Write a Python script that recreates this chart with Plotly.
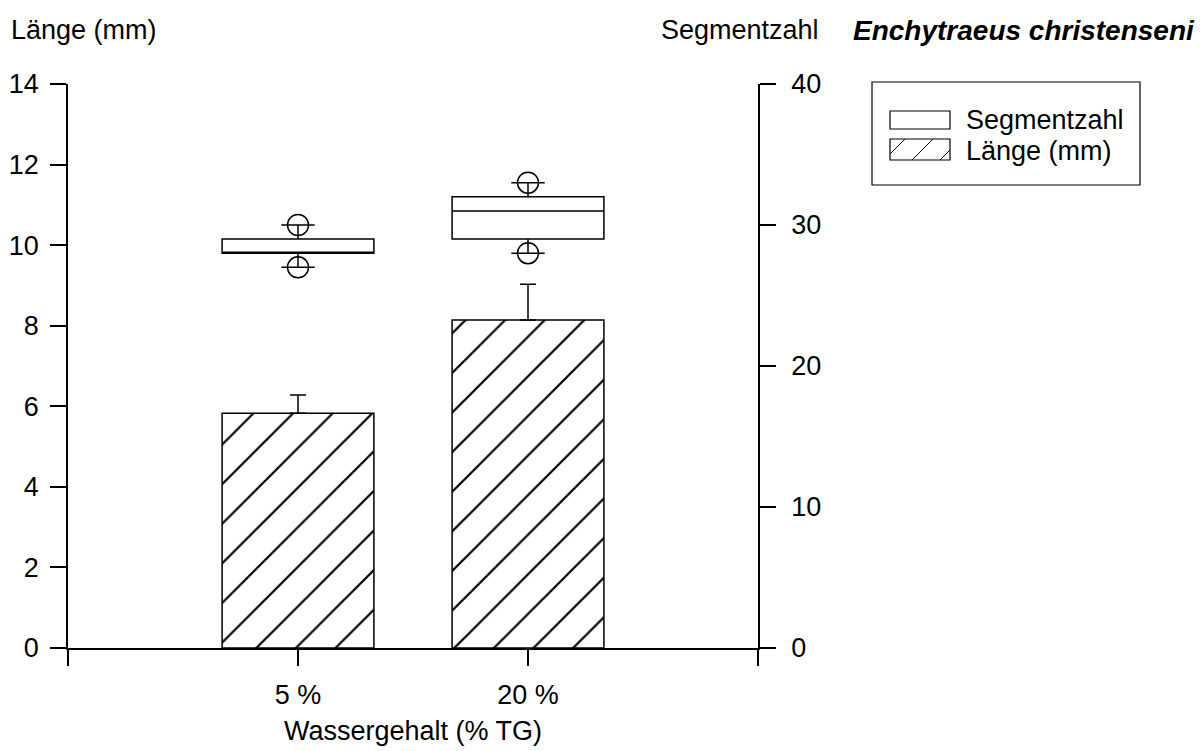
import plotly.graph_objects as go

# ---- data ----
categories = ["5 %", "20 %"]
x_pos = [0, 1]
laenge_mean = [5.83, 8.14]
laenge_err = [0.45, 0.89]

seg_q1 = [28, 29]
seg_median = [28, 31]
seg_q3 = [29, 32]
seg_lower = [27, 28]
seg_upper = [30, 33]

FONT = "Liberation Sans, Arial, sans-serif"
FS = 27

fig = go.Figure()

fig.add_trace(go.Bar(
    x=x_pos, y=laenge_mean, width=0.66,
    marker=dict(color="white",
                line=dict(color="black", width=1.5),
                pattern=dict(shape="/", fgcolor="black", bgcolor="white",
                             fgopacity=1, size=28, solidity=0.08)),
    error_y=dict(type="data", symmetric=False, array=laenge_err,
                 arrayminus=[0, 0], color="black", thickness=1.5, width=8),
    showlegend=False, yaxis="y",
))

fig.add_trace(go.Box(
    x=x_pos, q1=seg_q1, median=seg_median, q3=seg_q3,
    lowerfence=seg_lower, upperfence=seg_upper,
    width=0.66, whiskerwidth=0.22, boxpoints=False,
    fillcolor="white", line=dict(color="black", width=1.5),
    showlegend=False, yaxis="y2",
))

fig.add_trace(go.Scatter(
    x=x_pos + x_pos, y=seg_upper + seg_lower, mode="markers",
    marker=dict(symbol="circle-open", size=21, color="black",
                line=dict(width=1.5, color="black")),
    showlegend=False, yaxis="y2", hoverinfo="skip",
))

L, R, T, B = 68, 442, 84, 103
W, H = 1200, 751
pw, ph = W - L - R, H - T - B


def px(xp):
    return (xp - L) / pw


def py(yp):
    return (H - B - yp) / ph


shapes = []
# legend frame
shapes.append(dict(type="rect", xref="paper", yref="paper",
                   x0=px(872), x1=px(1140), y0=py(82), y1=py(185),
                   line=dict(color="black", width=1.2), fillcolor="white", layer="above"))
# swatch Segmentzahl
shapes.append(dict(type="rect", xref="paper", yref="paper",
                   x0=px(890), x1=px(950), y0=py(111), y1=py(129),
                   line=dict(color="black", width=1.2), fillcolor="white", layer="above"))
# swatch Länge
sx0, sx1, sy0, sy1 = 890, 950, 139, 160
shapes.append(dict(type="rect", xref="paper", yref="paper",
                   x0=px(sx0), x1=px(sx1), y0=py(sy0), y1=py(sy1),
                   line=dict(color="black", width=1.2), fillcolor="white", layer="above"))
hh = sy1 - sy0
for start in [sx0 - 6, sx0 + 22, sx0 + 50]:
    xa, ya = start, sy1
    xb, yb = start + hh, sy0
    if xa < sx0:
        ya = sy1 - (sx0 - xa)
        xa = sx0
    if xb > sx1:
        yb = sy0 + (xb - sx1)
        xb = sx1
    shapes.append(dict(type="line", xref="paper", yref="paper",
                       x0=px(xa), y0=py(ya), x1=px(xb), y1=py(yb),
                       line=dict(color="black", width=1), layer="above"))

annotations = [
    dict(text="Länge (mm)", x=px(9), y=py(30), xref="paper", yref="paper",
         xanchor="left", yanchor="middle", showarrow=False,
         font=dict(family=FONT, size=FS, color="black")),
    dict(text="Segmentzahl", x=px(821), y=py(30), xref="paper", yref="paper",
         xanchor="right", yanchor="middle", showarrow=False,
         font=dict(family=FONT, size=FS, color="black")),
    dict(text="<b><i>Enchytraeus christenseni</i></b>", x=px(1197), y=py(30),
         xref="paper", yref="paper", xanchor="right", yanchor="middle",
         showarrow=False, font=dict(family=FONT, size=28, color="black")),
    dict(text="Segmentzahl", x=px(964), y=py(120), xref="paper", yref="paper",
         xanchor="left", yanchor="middle", showarrow=False,
         font=dict(family=FONT, size=FS, color="black")),
    dict(text="Länge (mm)", x=px(964), y=py(151), xref="paper", yref="paper",
         xanchor="left", yanchor="middle", showarrow=False,
         font=dict(family=FONT, size=FS, color="black")),
]

fig.update_layout(
    width=W, height=H,
    margin=dict(l=L, r=R, t=T, b=B, pad=0, autoexpand=False),
    paper_bgcolor="white", plot_bgcolor="white",
    font=dict(family=FONT, size=FS, color="black"),
    boxmode="overlay",
    xaxis=dict(range=[-1, 2], tickvals=[-1] + x_pos + [2],
               ticktext=[""] + categories + [""], automargin=False,
               ticks="outside", ticklen=16, tickwidth=1.5, tickcolor="black",
               showline=True, linecolor="black", linewidth=1.5,
               showgrid=False, zeroline=False, ticklabelstandoff=6,
               title=dict(text="Wassergehalt (% TG)", standoff=12,
                          font=dict(family=FONT, size=FS))),
    yaxis=dict(range=[0, 14], tickvals=list(range(0, 15, 2)), automargin=False,
               ticks="outside", ticklen=16, tickwidth=1.5, tickcolor="black",
               showline=True, linecolor="black", linewidth=1.5,
               showgrid=False, zeroline=False, ticklabelstandoff=6),
    yaxis2=dict(range=[0, 40], tickvals=list(range(0, 41, 10)), automargin=False,
                overlaying="y", side="right", anchor="x",
                ticks="outside", ticklen=16, tickwidth=1.5, tickcolor="black",
                showline=True, linecolor="black", linewidth=1.5,
                showgrid=False, zeroline=False, ticklabelstandoff=10),
    shapes=shapes, annotations=annotations,
)

fig.write_html("out.html")
